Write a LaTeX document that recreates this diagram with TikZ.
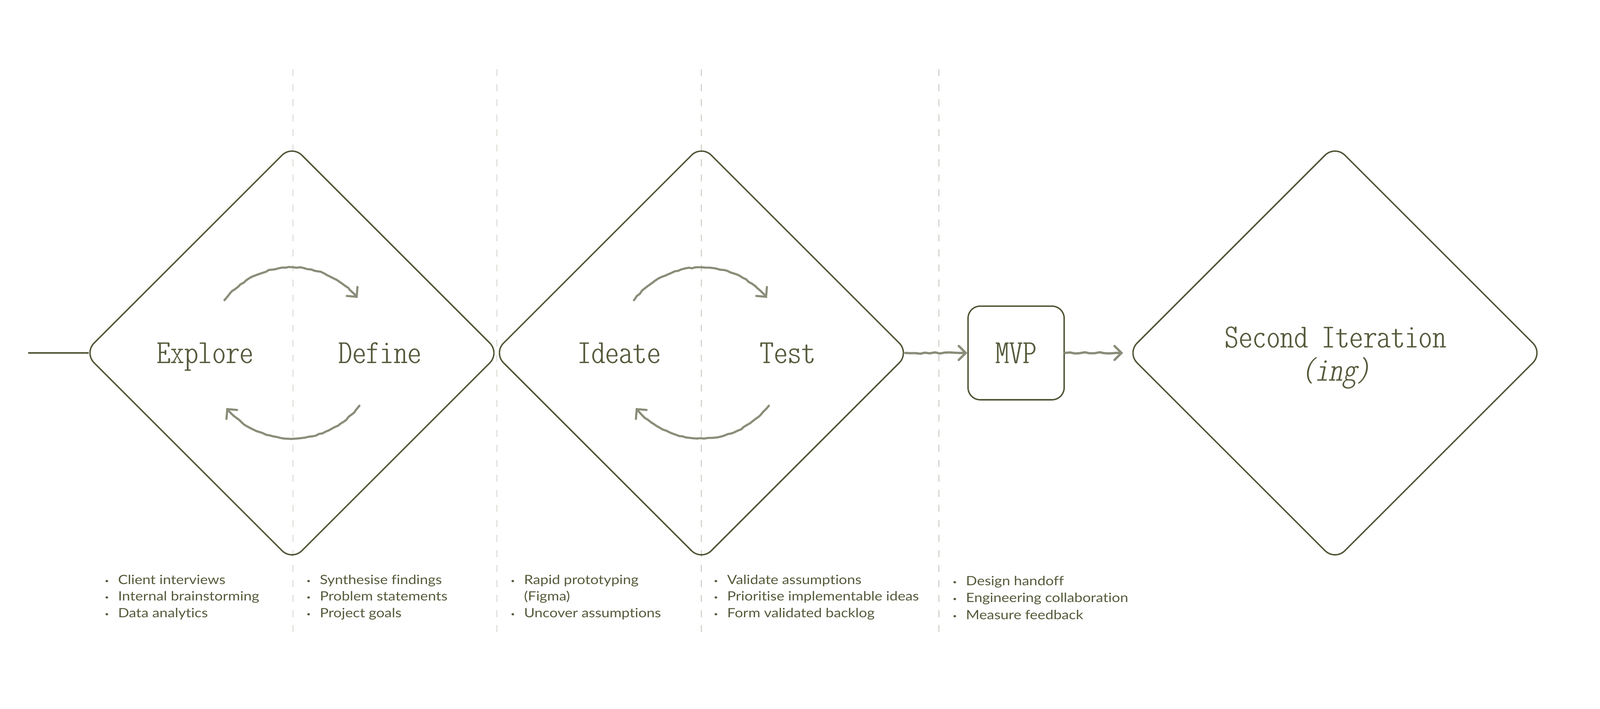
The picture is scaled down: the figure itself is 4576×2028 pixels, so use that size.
\documentclass[tikz,border=0pt]{standalone}
\usepackage{fontspec}
\usetikzlibrary{shapes.geometric,arrows.meta,decorations.pathmorphing,calc}
\newfontfamily\headfont{lmmonoltcond10-regular.otf}[ItalicFont=lmmonoltcond10-oblique.otf,FakeStretch=1.17]
\newfontfamily\bulfont{Lato}[FakeStretch=1.14,Ligatures={NoCommon,NoDiscretionary,NoContextual},Contextuals=NoAlternate]
\definecolor{ink}{HTML}{4F5535}
\definecolor{txt}{HTML}{545B3B}
\definecolor{arr}{HTML}{8A8D78}
\definecolor{dashc}{HTML}{D4D4CC}
\newcommand\bul{\makebox[0pt]{\raisebox{0.3mm}{\fontsize{5pt}{5pt}\selectfont •}}\hspace{3.2mm}}
\begin{document}
\begin{tikzpicture}[x=0.1mm,y=0.1mm,
  guide/.style={draw=dashc, line width=0.3mm, dash pattern=on 2mm off 2.3mm},
  diam/.style={shape=diamond, draw=ink, line width=0.4mm, minimum width=119mm, minimum height=119mm, inner sep=0pt, rounded corners=4mm, aspect=1},
  mvpbox/.style={draw=ink, line width=0.4mm, minimum width=27.5mm, minimum height=26.8mm, rounded corners=3.5mm, inner sep=0pt, text=txt, font=\headfont\fontsize{27.5pt}{33pt}\selectfont},
  head/.style={anchor=base, inner sep=0pt, text=txt, font=\headfont\fontsize{27.5pt}{33pt}\selectfont},
  item/.style={anchor=base west, inner sep=0pt, text=txt, font=\bulfont\fontsize{10.4pt}{13.5pt}\selectfont},
  inkline/.style={draw=ink, line width=0.4mm},
  cyc/.style={draw=arr, line width=0.6mm, line cap=round, line join=round, decorate,
    decoration={random steps, segment length=1mm, amplitude=0.14mm, pre length=0.5mm, post length=1.5mm},
    -{Straight Barb[length=2mm,width=4mm,line cap=round]}},
  wavy/.style={draw=arr, line width=0.65mm, line cap=round, line join=round, decorate,
    decoration={random steps, segment length=1.4mm, amplitude=0.22mm, post length=2mm},
    -{Straight Barb[length=2mm,width=4mm,line cap=round]}}
]
\useasboundingbox (0,0) rectangle (4576,2028);
% guides
\foreach \x in {838,1421,2006,2685} \draw[guide] (\x,1830) -- (\x,201);
% diamonds
\node[diam] (d1) at (835,1018) {};
\node[diam] (d2) at (2006,1018) {};
\node[diam] (d3) at (3818,1018) {};
\node[mvpbox] (mvp) at (2906,1018) {MVP};
% headings
\node[head] (explore) at (587,988) {Explore};
\node[head] (define) at (1087,988) {Define};
\node[head] (ideate) at (1771,988) {Ideate};
\node[head] (test) at (2253,988) {Test};
\node[head] (second) at (3820,1033) {Second Iteration};
\node[head] (ing) at (3820,938) {\itshape (ing)};
% entry line
\coordinate (in) at (80,1018);
\draw[inkline] (in) -- ([xshift=1.6mm]d1.west);
% cycle arrows
\draw[cyc] ($(d1.center)+(142:245)$) arc[start angle=142, end angle=40, radius=245];
\draw[cyc] ($(d1.center)+(-38:245)$) arc[start angle=-38, end angle=-140, radius=245];
\draw[cyc] ($(d2.center)+(142:245)$) arc[start angle=142, end angle=40, radius=245];
\draw[cyc] ($(d2.center)+(-38:245)$) arc[start angle=-38, end angle=-140, radius=245];
% flow arrows
\coordinate (e2) at (3212,1018);
\draw[wavy] ([xshift=-1.4mm]d2.east) -- (mvp.west);
\draw[wavy] (mvp.east) -- (e2);
% lists
\node[item] (a1) at (305,356) {\bul Client interviews};
\node[item] (a2) at (305,309) {\bul Internal brainstorming};
\node[item] (a3) at (305,261) {\bul Data analytics};
\node[item] (b1) at (882,356) {\bul Synthesise findings};
\node[item] (b2) at (882,309) {\bul Problem statements};
\node[item] (b3) at (882,261) {\bul Project goals};
\node[item] (c1) at (1466,356) {\bul Rapid prototyping};
\node[item] (c2) at (1498,309) {(Figma)};
\node[item] (c3) at (1466,261) {\bul Uncover assumptions};
\node[item] (t1) at (2047,356) {\bul Validate assumptions};
\node[item] (t2) at (2047,309) {\bul Prioritise implementable ideas};
\node[item] (t3) at (2047,261) {\bul Form validated backlog};
\node[item] (m1) at (2730,353) {\bul Design handoff};
\node[item] (m2) at (2730,305) {\bul Engineering collaboration};
\node[item] (m3) at (2730,256) {\bul Measure feedback};
\end{tikzpicture}
\end{document}
